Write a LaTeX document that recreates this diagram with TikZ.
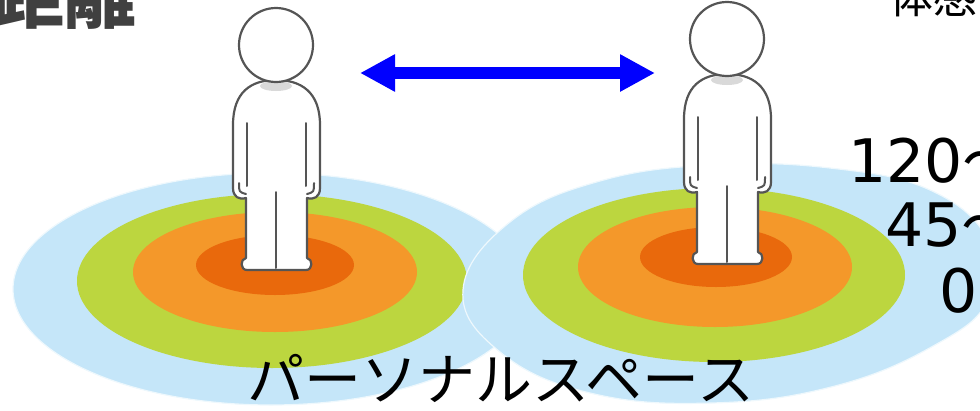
\documentclass[tikz,border=0pt]{standalone}
\usepackage{fontspec}
\usepackage{xcolor}
\usepackage{tikz}
\usetikzlibrary{arrows.meta,positioning,calc}

\newfontfamily\jpfont{Noto Sans CJK JP}
\newfontfamily\numfont{DejaVu Sans}

\definecolor{zoneblue}{RGB}{197,230,249}
\definecolor{zonegreen}{RGB}{188,214,63}
\definecolor{zoneorange}{RGB}{244,152,42}
\definecolor{zonered}{RGB}{233,105,12}
\definecolor{outline}{RGB}{85,85,85}
\definecolor{titlegray}{RGB}{64,64,64}

\begin{document}
\begin{tikzpicture}[x=1pt, y=-1pt]
        \tikzstyle{skin} = [fill=white, draw=outline, line width=2.2pt, line join=round]
        \tikzstyle{crease} = [draw=outline, line width=2pt, line cap=round]
        \tikzstyle{outer} = [fill=zoneblue, draw=white!70!zoneblue, line width=1.2pt]
        \tikzstyle{txt} = [inner sep=0pt, text=black]
        \tikzstyle{gaparrow} = [draw, blue, line width=12pt, {Triangle[length=35pt, width=35pt]}-{Triangle[length=35pt, width=35pt]}]

        \useasboundingbox (0,0) rectangle (980,410);
        \clip (0,0) rectangle (980,410);

        % rings round each person, outermost first
        \filldraw[outer] (271,289) ellipse [x radius=258, y radius=116];
        \foreach \zc/\zx/\zy/\rx/\ry in {zonegreen/272/281/195/87, zoneorange/275/272/142/60, zonered/275/265/79/30}
            \fill[\zc] (\zx,\zy) ellipse [x radius=\rx, y radius=\ry];
        \filldraw[outer] plot[smooth cycle, tension=0.7] coordinates {(463,290) (510,222) (600,181) (712,165) (830,168) (930,190) (988,240)
            (988,300) (935,345) (835,386) (712,403) (590,393) (500,352)};
        \foreach \zc/\zx/\zy/\rx/\ry in {zonegreen/714/275/191/87, zoneorange/715/267/137/60, zonered/716/257/76/30}
            \fill[\zc] (\zx,\zy) ellipse [x radius=\rx, y radius=\ry];

        % the two people
        \foreach \px/\py in {276/0, 727/-6} {
            \begin{scope}[shift={(\px,\py)}]
                \filldraw[skin] (0,80) .. controls (-25,80) and (-43,92) .. (-43,125) -- (-43,188)
                    .. controls (-43,197) and (-37,200) .. (-30,198) -- (-30,258)
                    .. controls (-36,259) and (-36,270) .. (-29,270) -- (30,270)
                    .. controls (37,270) and (37,259) .. (31,258) -- (31,198)
                    .. controls (38,200) and (44,197) .. (44,188) -- (44,125)
                    .. controls (44,92) and (25,80) .. (0,80) -- cycle;
                \fill[gray!30] (0,86) ellipse [x radius=16, y radius=5];
                \filldraw[skin] (0,45) circle [radius=37];
                \draw[crease] (-29,123) -- (-29,186);
                \draw[crease] (30,123) -- (30,186);
                \draw[crease] (-37,183) .. controls (-37,192) .. (-30,194);
                \draw[crease] (38,183) .. controls (38,192) .. (31,194);
                \draw[crease] (0,192) -- (0,268);
            \end{scope}
        }

        \coordinate (gapL) at (360,73);
        \coordinate (gapR) at (655,73);
        \draw[gaparrow] (gapL) -- (gapR);

        \node[txt, anchor=base west, text=titlegray, font=\jpfont\bfseries\fontsize{72pt}{72pt}\selectfont] (title) at (-8,22) {距離};
        \node[txt, anchor=base west, font=\jpfont\fontsize{44pt}{44pt}\selectfont] (sense) at (889,13) {体感};
        \node[txt, anchor=base west, font=\numfont\fontsize{60pt}{60pt}\selectfont] (far) at (848,182) {120{\jpfont 〜}};
        \node[txt, anchor=base west, font=\numfont\fontsize{60pt}{60pt}\selectfont] (mid) at (885,246) {45{\jpfont 〜}};
        \node[txt, anchor=base west, font=\numfont\fontsize{60pt}{60pt}\selectfont] (near) at (939,312) {0};
        \node[txt, font=\jpfont\fontsize{57pt}{57pt}\selectfont] (space) at (501,378) {パーソナルスペース};
    \end{tikzpicture}
\end{document}
